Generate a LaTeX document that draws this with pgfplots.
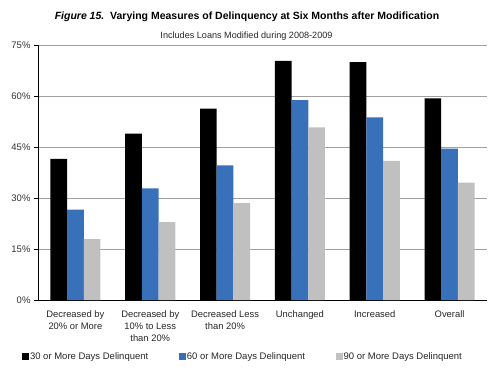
\documentclass[border=0pt]{standalone}
\usepackage{fontspec}
\setmainfont{Liberation Sans}
\usepackage{pgfplots}
\pgfplotsset{compat=1.18}
\definecolor{cBlack}{RGB}{0,0,0}
\definecolor{cBlue}{RGB}{56,112,186}
\definecolor{cGray}{RGB}{192,192,192}
\definecolor{cGrid}{RGB}{160,160,160}
\begin{document}
\begin{tikzpicture}
\begin{axis}[
  at={(0,0)}, anchor=south west,
  scale only axis, width=449pt, height=255pt,
  ybar=0pt, bar width=16.7pt,
  xmin=-0.5, xmax=5.5, ymin=0, ymax=75,
  axis x line=bottom, axis y line=left,
  axis line style={-, black, line width=0.8pt},
  ymajorgrids, grid style={cGrid, line width=0.6pt},
  ytick={0,15,30,45,60,75},
  yticklabel={\pgfmathprintnumber{\tick}\%},
  /pgf/number format/assume math mode=true,
  y tick label style={font=\fontsize{9.5}{11}\selectfont, color=black!80},
  major y tick style={black, line width=0.6pt},
  tick align=outside, major tick length=4pt,
  xtick={0,1,2,3,4,5},
  major x tick style={draw=none},
  xticklabels={Decreased by\\20\% or More, Decreased by\\10\% to Less\\than 20\%, Decreased Less\\than 20\%, Unchanged, Increased, Overall},
  x tick label style={font=\fontsize{9.4}{12}\selectfont, align=center, anchor=north, yshift=-3pt, color=black!85},
  extra x ticks={-0.5,0.5,1.5,2.5,3.5,4.5,5.5},
  extra x tick labels={},
  extra x tick style={major tick length=3pt, major x tick style={black, line width=0.6pt}, tick align=outside},
  legend columns=3,
  legend style={at={(-0.036,-0.2235)}, anchor=west, draw=none, fill=none, inner sep=0pt,
    font=\fontsize{9.5}{11}\selectfont, text=black!85,
    /tikz/every even column/.append style={column sep=29.5pt},
    nodes={inner sep=1pt}},
  legend image code/.code={\fill[#1] (0pt,-3pt) rectangle (7pt,4pt);},
  clip=false,
]
\addplot[fill=cBlack, draw=none] coordinates {(0,41.5) (1,48.9) (2,56.3) (3,70.3) (4,70.0) (5,59.3)};
\addplot[fill=cBlue, draw=none] coordinates {(0,26.6) (1,32.8) (2,39.6) (3,58.8) (4,53.7) (5,44.5)};
\addplot[fill=cGray, draw=none] coordinates {(0,17.9) (1,22.9) (2,28.5) (3,50.8) (4,40.9) (5,34.5)};
\legend{30 or More Days Delinquent, 60 or More Days Delinquent, 90 or More Days Delinquent}
\end{axis}
\node[font=\fontsize{10.5}{12}\selectfont\bfseries] at (209pt,283pt) {\textit{Figure 15.}\ \ Varying Measures of Delinquency at Six Months after Modification};
\node[font=\fontsize{9.1}{10}\selectfont, text=black!85] at (208.5pt,264pt) {Includes Loans Modified during 2008-2009};
\pgfresetboundingbox
\path[use as bounding box] (-38pt,-76pt) rectangle (462pt,300pt);
\end{tikzpicture}
\end{document}
